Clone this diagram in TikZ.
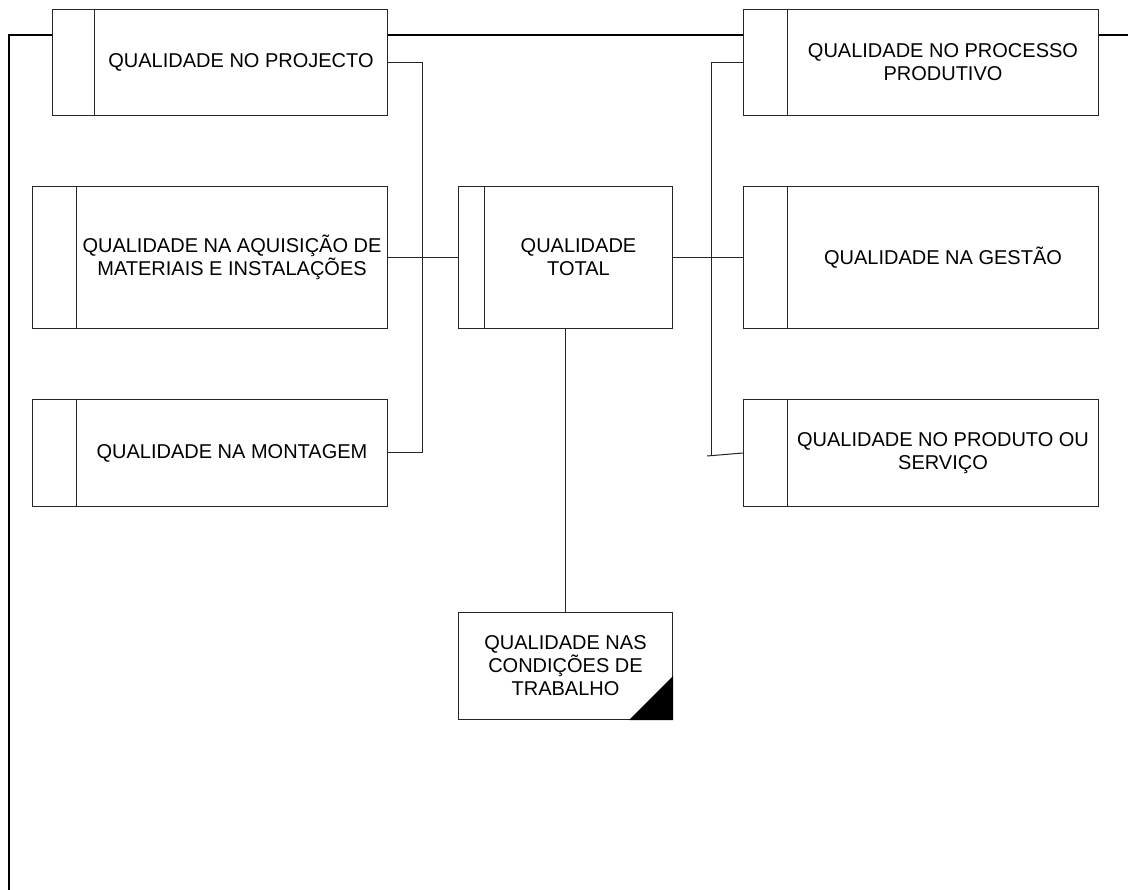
\documentclass[tikz,border=0pt]{standalone}
\usepackage{fontspec}
\setmainfont{Liberation Sans}
\usetikzlibrary{calc}
\tikzset{
  qb/.style={draw=black!85, line width=1pt, rectangle, inner sep=0pt, fill=white},
  divider/.style={draw=black!85, line width=1pt},
  txt/.style={align=center, inner sep=0pt, font=\fontsize{20}{23}\selectfont},
  conn/.style={draw=black!85, line width=1pt},
  thk/.style={draw=black, line width=2.3pt},
}
\newcommand{\qualbox}[7]{%
  \node[qb, minimum width={#4-#2}, minimum height={#5-#3}, anchor=north west] (#1) at (#2,#3) {};
  \draw[divider] ($(#1.north west)+(#6,0)$) -- ($(#1.south west)+(#6,0)$);
  \node[txt] (#1t) at ($(#1.center)+(#6/2,0)$) {#7};
}
\begin{document}
\begin{tikzpicture}[x=1pt,y=-1pt]
\useasboundingbox (0,0) rectangle (1128,890);
\fill[white] (0,0) rectangle (1128,890);

\qualbox{proj}{52}{9}{387}{115}{42}{QUALIDADE NO PROJECTO}
\qualbox{proc}{743}{9}{1098}{115}{44}{QUALIDADE NO PROCESSO\\PRODUTIVO}
\qualbox{aq}{32}{186}{387}{328}{44}{QUALIDADE NA AQUISIÇÃO DE\\MATERIAIS E INSTALAÇÕES}
\qualbox{tot}{458}{186}{672}{328}{26}{QUALIDADE\\TOTAL}
\qualbox{ges}{743}{186}{1098}{328}{44}{QUALIDADE NA GESTÃO}
\qualbox{mont}{32}{399}{387}{506}{44}{QUALIDADE NA MONTAGEM}
\qualbox{prod}{743}{399}{1098}{506}{44}{QUALIDADE NO PRODUTO OU\\SERVIÇO}

\node[qb, minimum width=214, minimum height=107, anchor=north west] (cond) at (458,612) {};
\node[txt] (condt) at (cond.center) {QUALIDADE NAS\\CONDIÇÕES DE\\TRABALHO};
\fill[black] (cond.south east) -- ++(-44,0) -- ++(44,-44) -- cycle;

% thin connectors
\draw[conn] (proj.east) -- ++(34,0) |- (mont.east);
\draw[conn] (aq.east) -- (tot.west);
\draw[conn] (tot.east) -- (ges.west);
\draw[conn] (tot.south) -- (cond.north);
\draw[conn] (proc.west) -- ++(-32,0) coordinate (rv) -- ++(0,394);
\coordinate (pj) at (707,456);
\draw[conn] (pj) -- (prod.west);

% thick frame line
\coordinate (lb) at (9,892);
\coordinate (rb) at (1130,35);
\draw[thk] ($(proj.north west)+(0,26)$) -| (lb);
\draw[thk] ($(proj.north east)+(0,26)$) -- ($(proc.north west)+(0,26)$);
\draw[thk] ($(proc.north east)+(0,26)$) -- (rb);
\end{tikzpicture}
\end{document}
